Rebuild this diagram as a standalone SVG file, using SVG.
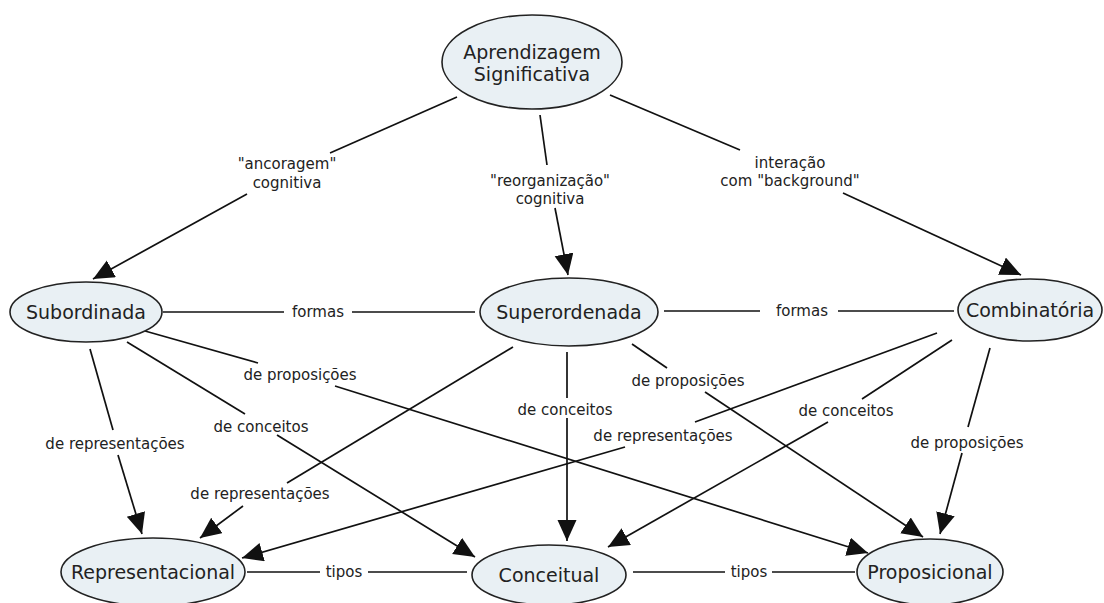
<svg xmlns="http://www.w3.org/2000/svg" width="1104" height="603" viewBox="0 0 1104 603">
<defs>
<marker id="arr" markerUnits="userSpaceOnUse" markerWidth="23" markerHeight="21" refX="21" refY="9.5" orient="auto">
<path d="M0,0 L21,9.5 L0,19 z" fill="#111"/>
</marker>
<style>
.node ellipse{fill:#e9f0f4;stroke:#222;stroke-width:1.6}
.node text{font-family:"DejaVu Sans",Verdana,sans-serif;font-size:19px;fill:#222;text-anchor:middle}
.lbl{font-family:"DejaVu Sans",Verdana,sans-serif;font-size:15px;fill:#222;text-anchor:middle}
#connectors line{stroke:#111;stroke-width:1.7;fill:none}
.a{marker-end:url(#arr)}
</style>
</defs>
<rect width="1104" height="603" fill="#fff"/>
<g id="connectors">
<line x1="457" y1="97" x2="330" y2="153"/><line class="a" x1="247" y1="194" x2="93" y2="279"/>
<line x1="540" y1="115" x2="547" y2="165"/><line class="a" x1="555" y1="208" x2="568" y2="275"/>
<line x1="610" y1="95" x2="740" y2="150"/><line class="a" x1="843" y1="193" x2="1021" y2="275"/>
<line x1="163" y1="312" x2="284" y2="312"/><line x1="352" y1="312" x2="475" y2="312"/>
<line x1="664" y1="311" x2="760" y2="311"/><line x1="838" y1="311" x2="954" y2="311"/>
<line x1="247" y1="572" x2="320" y2="572"/><line x1="368" y1="572" x2="467" y2="572"/>
<line x1="633" y1="572" x2="725" y2="572"/><line x1="772" y1="572" x2="855" y2="572"/>
<line x1="90" y1="349" x2="113" y2="430"/><line class="a" x1="118" y1="455" x2="142" y2="534"/>
<line x1="127" y1="342" x2="245" y2="414"/><line class="a" x1="277" y1="435" x2="475" y2="557"/>
<line x1="145" y1="331" x2="258" y2="363"/><line class="a" x1="335" y1="386" x2="868" y2="553"/>
<line x1="513" y1="347" x2="287" y2="483"/><line class="a" x1="243" y1="506" x2="200" y2="538"/>
<line x1="567" y1="352" x2="567" y2="398"/><line class="a" x1="567" y1="418" x2="567" y2="541"/>
<line x1="632" y1="344" x2="667" y2="368"/><line class="a" x1="705" y1="392" x2="923" y2="537"/>
<line x1="937" y1="333" x2="695" y2="422"/><line class="a" x1="625" y1="447" x2="242" y2="558"/>
<line x1="952" y1="340" x2="862" y2="399"/><line class="a" x1="828" y1="422" x2="608" y2="547"/>
<line x1="990" y1="348" x2="968" y2="427"/><line class="a" x1="962" y1="453" x2="940" y2="534"/>
</g>
<g id="labels">
<text class="lbl" x="287" y="169">"ancoragem"</text><text class="lbl" x="287" y="188">cognitiva</text>
<text class="lbl" x="550" y="186">"reorganização"</text><text class="lbl" x="550" y="204">cognitiva</text>
<text class="lbl" x="790" y="168">interação</text><text class="lbl" x="790" y="186">com "background"</text>
<text class="lbl" x="318" y="317">formas</text>
<text class="lbl" x="802" y="316">formas</text>
<text class="lbl" x="344" y="577">tipos</text>
<text class="lbl" x="749" y="577">tipos</text>
<text class="lbl" x="115" y="449">de representações</text>
<text class="lbl" x="261" y="432">de conceitos</text>
<text class="lbl" x="300" y="380">de proposições</text>
<text class="lbl" x="260" y="499">de representações</text>
<text class="lbl" x="565" y="415">de conceitos</text>
<text class="lbl" x="688" y="386">de proposições</text>
<text class="lbl" x="663" y="441">de representações</text>
<text class="lbl" x="846" y="416">de conceitos</text>
<text class="lbl" x="967" y="448">de proposições</text>
</g>
<g id="n-aprendizagem" class="node"><ellipse cx="532" cy="62" rx="90" ry="47"/><text x="532" y="59">Aprendizagem</text><text x="532" y="81">Significativa</text></g>
<g id="n-subordinada" class="node"><ellipse cx="86" cy="312" rx="76" ry="30"/><text x="86" y="319">Subordinada</text></g>
<g id="n-superordenada" class="node"><ellipse cx="569" cy="312" rx="89" ry="34"/><text x="569" y="319">Superordenada</text></g>
<g id="n-combinatoria" class="node"><ellipse cx="1030" cy="310" rx="72" ry="31"/><text x="1030" y="317">Combinatória</text></g>
<g id="n-representacional" class="node"><ellipse cx="153" cy="572" rx="92" ry="34"/><text x="153" y="579">Representacional</text></g>
<g id="n-conceitual" class="node"><ellipse cx="549" cy="575" rx="77" ry="30"/><text x="549" y="582">Conceitual</text></g>
<g id="n-proposicional" class="node"><ellipse cx="930" cy="572" rx="73" ry="33"/><text x="930" y="579">Proposicional</text></g>
</svg>
